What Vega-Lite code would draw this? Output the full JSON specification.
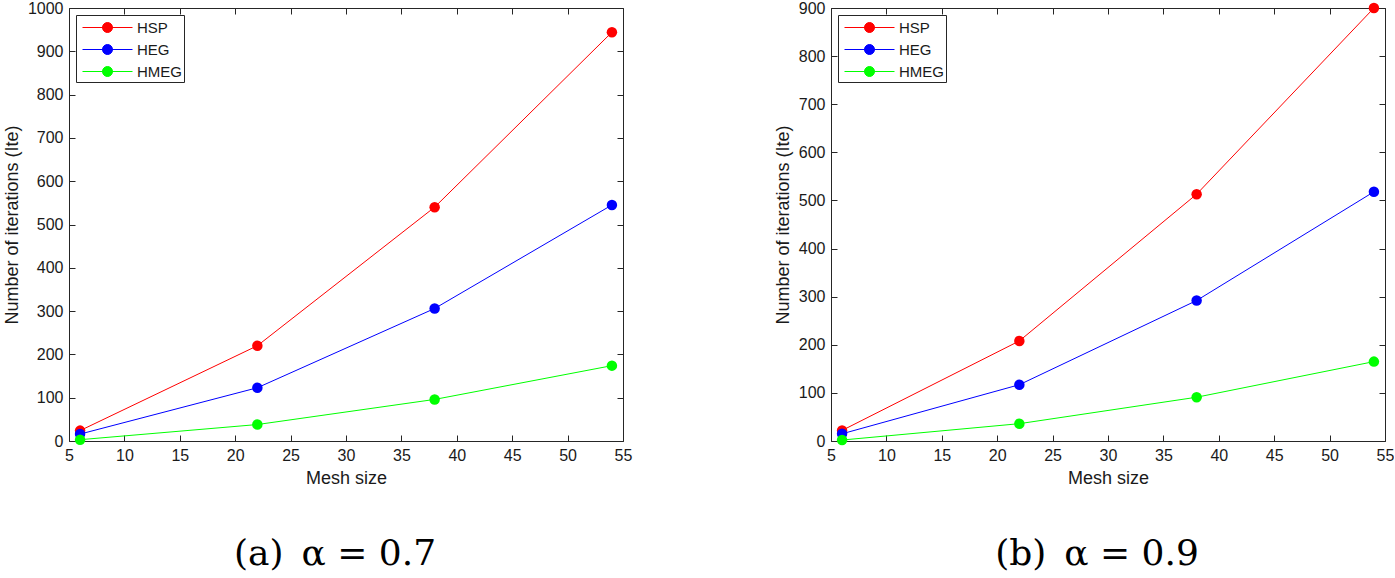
{
  "$schema": "https://vega.github.io/schema/vega-lite/v6.json",
  "padding": {"left": 3, "top": 0, "right": 0, "bottom": 0},
  "background": "white",
  "data": {"values": [
    {"panel": "a", "method": "HSP", "mesh": 6, "ite": 24},
    {"panel": "a", "method": "HSP", "mesh": 22, "ite": 220},
    {"panel": "a", "method": "HSP", "mesh": 38, "ite": 540},
    {"panel": "a", "method": "HSP", "mesh": 54, "ite": 944},
    {"panel": "a", "method": "HEG", "mesh": 6, "ite": 16},
    {"panel": "a", "method": "HEG", "mesh": 22, "ite": 123},
    {"panel": "a", "method": "HEG", "mesh": 38, "ite": 306},
    {"panel": "a", "method": "HEG", "mesh": 54, "ite": 545},
    {"panel": "a", "method": "HMEG", "mesh": 6, "ite": 3},
    {"panel": "a", "method": "HMEG", "mesh": 22, "ite": 38},
    {"panel": "a", "method": "HMEG", "mesh": 38, "ite": 96},
    {"panel": "a", "method": "HMEG", "mesh": 54, "ite": 174},
    {"panel": "b", "method": "HSP", "mesh": 6, "ite": 22},
    {"panel": "b", "method": "HSP", "mesh": 22, "ite": 208},
    {"panel": "b", "method": "HSP", "mesh": 38, "ite": 513},
    {"panel": "b", "method": "HSP", "mesh": 54, "ite": 900},
    {"panel": "b", "method": "HEG", "mesh": 6, "ite": 15},
    {"panel": "b", "method": "HEG", "mesh": 22, "ite": 117},
    {"panel": "b", "method": "HEG", "mesh": 38, "ite": 292},
    {"panel": "b", "method": "HEG", "mesh": 54, "ite": 518},
    {"panel": "b", "method": "HMEG", "mesh": 6, "ite": 2},
    {"panel": "b", "method": "HMEG", "mesh": 22, "ite": 36},
    {"panel": "b", "method": "HMEG", "mesh": 38, "ite": 91},
    {"panel": "b", "method": "HMEG", "mesh": 54, "ite": 165}
  ]},
  "resolve": {"scale": {"color": "independent", "x": "independent", "y": "independent"}, "legend": {"color": "independent"}},
  "spacing": 142,
  "hconcat": [
    {
      "width": 554, "height": 433,
      "transform": [{"filter": "datum.panel === 'a'"}],
      "title": {"text": "(a)\u2002α = 0.7", "orient": "bottom", "font": "DejaVu Serif", "fontSize": 36, "fontWeight": "normal", "color": "black", "offset": 50, "dx": -11},
      "layer": [
        {
          "mark": {"type": "line", "strokeWidth": 1, "clip": false},
          "encoding": {
            "x": {"field": "mesh", "type": "quantitative", "scale": {"domain": [5, 55], "nice": false, "zero": false},
                  "axis": {"orient": "bottom", "title": "Mesh size", "values": [5,10,15,20,25,30,35,40,45,50,55]}},
            "y": {"field": "ite", "type": "quantitative", "scale": {"domain": [0, 1000], "nice": false},
                  "axis": {"orient": "left", "title": "Number of iterations (Ite)", "format": "d", "values": [0,100,200,300,400,500,600,700,800,900,1000]}},
            "color": {"field": "method", "type": "nominal", "scale": {"domain": ["HSP", "HEG", "HMEG"], "range": ["#ff0000", "#0000ff", "#00ff00"]},
                      "legend": {"orient": "top-left", "title": null}}
          }
        },
        {
          "mark": {"type": "point", "filled": true, "size": 110, "opacity": 1},
          "encoding": {
            "x": {"field": "mesh", "type": "quantitative", "axis": {"orient": "top", "title": null, "labels": false, "values": [5,10,15,20,25,30,35,40,45,50,55]}},
            "y": {"field": "ite", "type": "quantitative", "axis": {"orient": "right", "title": null, "labels": false, "values": [0,100,200,300,400,500,600,700,800,900,1000]}},
            "color": {"field": "method", "type": "nominal", "scale": {"domain": ["HSP", "HEG", "HMEG"], "range": ["#ff0000", "#0000ff", "#00ff00"]},
                      "legend": {"orient": "top-left", "title": null}}
          }
        }
      ]
    },
    {
      "width": 554, "height": 433,
      "transform": [{"filter": "datum.panel === 'b'"}],
      "title": {"text": "(b)\u2002α = 0.9", "orient": "bottom", "font": "DejaVu Serif", "fontSize": 36, "fontWeight": "normal", "color": "black", "offset": 50, "dx": -11},
      "layer": [
        {
          "mark": {"type": "line", "strokeWidth": 1, "clip": false},
          "encoding": {
            "x": {"field": "mesh", "type": "quantitative", "scale": {"domain": [5, 55], "nice": false, "zero": false},
                  "axis": {"orient": "bottom", "title": "Mesh size", "values": [5,10,15,20,25,30,35,40,45,50,55]}},
            "y": {"field": "ite", "type": "quantitative", "scale": {"domain": [0, 900], "nice": false},
                  "axis": {"orient": "left", "title": "Number of iterations (Ite)", "format": "d", "values": [0,100,200,300,400,500,600,700,800,900]}},
            "color": {"field": "method", "type": "nominal", "scale": {"domain": ["HSP", "HEG", "HMEG"], "range": ["#ff0000", "#0000ff", "#00ff00"]},
                      "legend": {"orient": "top-left", "title": null}}
          }
        },
        {
          "mark": {"type": "point", "filled": true, "size": 110, "opacity": 1},
          "encoding": {
            "x": {"field": "mesh", "type": "quantitative", "axis": {"orient": "top", "title": null, "labels": false, "values": [5,10,15,20,25,30,35,40,45,50,55]}},
            "y": {"field": "ite", "type": "quantitative", "axis": {"orient": "right", "title": null, "labels": false, "values": [0,100,200,300,400,500,600,700,800,900]}},
            "color": {"field": "method", "type": "nominal", "scale": {"domain": ["HSP", "HEG", "HMEG"], "range": ["#ff0000", "#0000ff", "#00ff00"]},
                      "legend": {"orient": "top-left", "title": null}}
          }
        }
      ]
    }
  ],
  "config": {
    "view": {"stroke": null},
    "axis": {
      "grid": false,
      "domainColor": "#262626", "tickColor": "#262626", "labelColor": "#1a1a1a", "titleColor": "#1a1a1a",
      "labelFont": "Liberation Sans", "labelFontSize": 16, "titleFont": "Liberation Sans", "titleFontSize": 18, "titleFontWeight": "normal",
      "tickSize": -6, "labelPadding": 12, "titlePadding": 6, "domainWidth": 1, "tickWidth": 1, "labelFlush": false, "labelOverlap": false
    },
    "legend": {
      "strokeColor": "#262626", "fillColor": "white", "padding": 2, "offset": 7,
      "labelFont": "Liberation Sans", "labelFontSize": 15, "labelColor": "#1a1a1a",
      "labelExpr": "datum.label + '\u2009'",
      "symbolType": "M-1,0H4M2,0A0.5,0.5 0 1,1 1,0A0.5,0.5 0 1,1 2,0Z",
      "symbolSize": 400, "symbolStrokeWidth": 1, "symbolOffset": 4, "labelOffset": 34, "rowPadding": 3, "symbolOpacity": 1
    }
  }
}
